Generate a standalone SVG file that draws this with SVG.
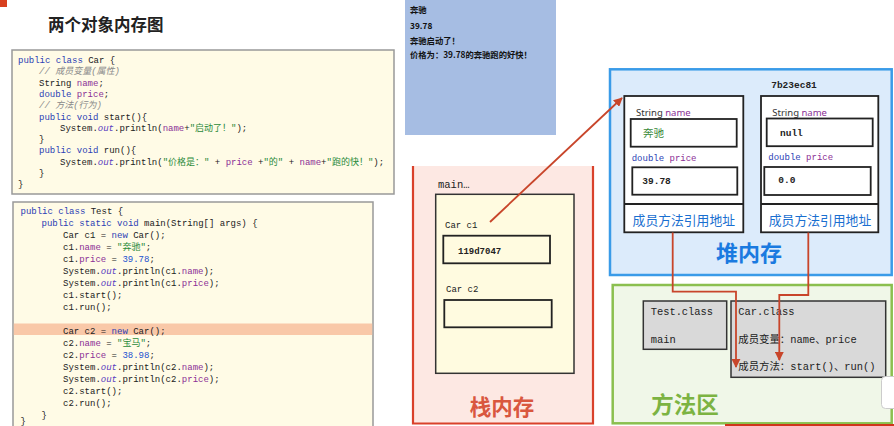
<svg xmlns="http://www.w3.org/2000/svg" width="894" height="426" viewBox="0 0 894 426">
<style>
.code{font-family:"Liberation Mono","Noto Sans CJK SC",monospace;font-size:9px;fill:#222}
.kw{fill:#2c3fb5}
.fld{fill:#8b2f96}
.str{fill:#2a8a3a}
.cm{fill:#8a8a8a;font-style:italic}
.num{fill:#2050d0}
.out{fill:#5a3cc0;font-style:italic}
.mono{font-family:"Liberation Mono","Noto Sans CJK SC",monospace;fill:#222}
.sans{font-family:"Noto Sans","Noto Sans CJK SC",sans-serif;fill:#333}
.cjk{font-family:"Noto Sans CJK SC",sans-serif}
.box{fill:#fff;stroke:#222;stroke-width:1.8}
.conn{fill:none;stroke:#c8452a;stroke-width:1.8}
</style>
<defs>
<marker id="ah" viewBox="0 0 10 10" refX="9" refY="5" markerWidth="5" markerHeight="5" orient="auto" markerUnits="strokeWidth">
<path d="M0,0 L10,5 L0,10 z" fill="#c8452a"/>
</marker>
</defs>
<rect width="894" height="426" fill="#fff"/>
<rect x="0" y="0" width="7" height="7" fill="#d8401f"/>

<g id="title">
<text x="48" y="31" class="cjk" font-size="16.5" font-weight="bold" fill="#222">两个对象内存图</text>
</g>

<g id="car-code">
<rect x="12" y="50" width="382" height="144" fill="#fffbe6" stroke="#999" stroke-width="1.5"/>
<text class="code" x="18" y="63"><tspan class="kw">public class</tspan> Car {</text>
<text class="code" x="39" y="74.3"><tspan class="cm">// 成员变量(属性)</tspan></text>
<text class="code" x="39" y="85.6">String <tspan class="fld">name</tspan>;</text>
<text class="code" x="39" y="96.9"><tspan class="kw">double</tspan> <tspan class="fld">price</tspan>;</text>
<text class="code" x="39" y="108.2"><tspan class="cm">// 方法(行为)</tspan></text>
<text class="code" x="39" y="119.5"><tspan class="kw">public void</tspan> start(){</text>
<text class="code" x="60" y="130.8">System.<tspan class="out">out</tspan>.println(<tspan class="fld">name</tspan>+<tspan class="str">"启动了！"</tspan>);</text>
<text class="code" x="39" y="142.1">}</text>
<text class="code" x="39" y="153.4"><tspan class="kw">public void</tspan> run(){</text>
<text class="code" x="60" y="164.7">System.<tspan class="out">out</tspan>.println(<tspan class="str">"价格是："</tspan> + <tspan class="fld">price</tspan> +<tspan class="str">"的"</tspan> + <tspan class="fld">name</tspan>+<tspan class="str">"跑的快！"</tspan>);</text>
<text class="code" x="39" y="176">}</text>
<text class="code" x="18" y="187.3">}</text>
</g>

<g id="test-code">
<rect x="13" y="202" width="360" height="240" fill="#fffbe6" stroke="#999" stroke-width="1.5"/>
<rect x="13.8" y="323.5" width="358.4" height="11.5" fill="#f9c8a8"/>
<text class="code" x="20.5" y="214.2"><tspan class="kw">public class</tspan> Test {</text>
<text class="code" x="41.5" y="226.2"><tspan class="kw">public static void</tspan> main(String[] args) {</text>
<text class="code" x="63" y="238.2">Car c1 = <tspan class="kw">new</tspan> Car();</text>
<text class="code" x="63" y="250.2">c1.<tspan class="fld">name</tspan> = <tspan class="str">"奔驰"</tspan>;</text>
<text class="code" x="63" y="262.2">c1.<tspan class="fld">price</tspan> = <tspan class="num">39.78</tspan>;</text>
<text class="code" x="63" y="274.2">System.<tspan class="out">out</tspan>.println(c1.<tspan class="fld">name</tspan>);</text>
<text class="code" x="63" y="286.2">System.<tspan class="out">out</tspan>.println(c1.<tspan class="fld">price</tspan>);</text>
<text class="code" x="63" y="298.2">c1.start();</text>
<text class="code" x="63" y="310.2">c1.run();</text>
<text class="code" x="63" y="334.2">Car c2 = <tspan class="kw">new</tspan> Car();</text>
<text class="code" x="63" y="346.2">c2.<tspan class="fld">name</tspan> = <tspan class="str">"宝马"</tspan>;</text>
<text class="code" x="63" y="358.2">c2.<tspan class="fld">price</tspan> = <tspan class="num">38.98</tspan>;</text>
<text class="code" x="63" y="370.2">System.<tspan class="out">out</tspan>.println(c2.<tspan class="fld">name</tspan>);</text>
<text class="code" x="63" y="382.2">System.<tspan class="out">out</tspan>.println(c2.<tspan class="fld">price</tspan>);</text>
<text class="code" x="63" y="394.2">c2.start();</text>
<text class="code" x="63" y="406.2">c2.run();</text>
<text class="code" x="41.5" y="417.5">}</text>
<text class="code" x="20.5" y="423.5">}</text>
</g>

<g id="console">
<rect x="405" y="0" width="151" height="135" fill="#a6bde3"/>
<g class="cjk" font-size="8.3" font-weight="bold" fill="#111">
<text x="410" y="13">奔驰</text>
<text x="410" y="28.5">39.78</text>
<text x="410" y="43.5">奔驰启动了！</text>
<text x="410" y="58">价格为：39.78的奔驰跑的好快！</text>
</g>
</g>

<g id="stack">
<rect x="413" y="166" width="180" height="257.5" fill="#fde8e3"/>
<path d="M413,166 V423.5 H593 V166" fill="none" stroke="#d9412b" stroke-width="2.2"/>
<text x="502" y="414.5" text-anchor="middle" class="cjk" font-size="21.5" font-weight="bold" fill="#d9573f">栈内存</text>
</g>

<g id="main-frame">
<text x="438" y="187.5" class="mono" font-size="10.5">main…</text>
<rect x="435.7" y="194.3" width="138.3" height="179" fill="#fffbe0" stroke="#333" stroke-width="1.5"/>
</g>

<g id="c1">
<text x="445" y="228.3" class="mono" font-size="9">Car c1</text>
<rect x="443.3" y="235.7" width="106.7" height="27.6" fill="#fffbe0" stroke="#222" stroke-width="1.8"/>
<text x="458" y="254.2" class="mono" font-size="9" font-weight="bold" fill="#7a3fb0">119d7047</text>
</g>

<g id="c2">
<text x="446" y="292.3" class="mono" font-size="9">Car c2</text>
<rect x="444.3" y="300" width="107.4" height="27.3" fill="#fffbe0" stroke="#222" stroke-width="1.8"/>
</g>

<g id="heap">
<rect x="610" y="69.3" width="281.7" height="205.7" fill="#dcebfb" stroke="#3a9be8" stroke-width="2.5"/>
<text x="794" y="87.5" text-anchor="middle" class="mono" font-size="9.5" font-weight="bold" fill="#7a3fb0">7b23ec81</text>
<text x="749" y="260.5" text-anchor="middle" class="cjk" font-size="22" font-weight="bold" fill="#1a7ae0">堆内存</text>
</g>

<g id="obj1">
<rect x="624.3" y="96" width="119" height="136.3" class="box"/>
<line x1="624.3" y1="204" x2="743.3" y2="204" stroke="#222" stroke-width="1.8"/>
<text x="636" y="116" class="sans" font-size="9.5">String <tspan fill="#8b2f96">name</tspan></text>
<rect x="630.7" y="119" width="106" height="27.7" class="box"/>
<text x="643" y="137.3" class="cjk" font-size="10.5" fill="#3a8a3a">奔驰</text>
<text x="631.7" y="160.7" class="mono" font-size="9"><tspan fill="#2c3fb5">double</tspan> <tspan fill="#8b2f96">price</tspan></text>
<rect x="632.3" y="167.3" width="105" height="27.4" class="box"/>
<text x="642.3" y="183.5" class="mono" font-size="9.5" font-weight="bold" fill="#2050d0">39.78</text>
<text x="683.8" y="225.3" text-anchor="middle" class="cjk" font-size="12.8" fill="#1a6fd0">成员方法引用地址</text>
</g>

<g id="obj2">
<rect x="761" y="96" width="117.3" height="136.3" class="box"/>
<line x1="761" y1="204" x2="878.3" y2="204" stroke="#222" stroke-width="1.8"/>
<text x="772.3" y="116" class="sans" font-size="9.5">String <tspan fill="#8b2f96">name</tspan></text>
<rect x="766.7" y="118.5" width="106" height="27.7" class="box"/>
<text x="780" y="136.3" class="mono" font-size="9.5" font-weight="bold" fill="#2a7a2a">null</text>
<text x="768.3" y="160.3" class="mono" font-size="9"><tspan fill="#2c3fb5">double</tspan> <tspan fill="#8b2f96">price</tspan></text>
<rect x="764.3" y="167" width="106.4" height="28" class="box"/>
<text x="778.3" y="183.3" class="mono" font-size="9.5" font-weight="bold" fill="#2050d0">0.0</text>
<text x="820" y="225.3" text-anchor="middle" class="cjk" font-size="12.8" fill="#1a6fd0">成员方法引用地址</text>
</g>

<g id="method-area">
<rect x="612.7" y="285" width="279" height="138.3" fill="#f0f7e8" stroke="#8bbf4f" stroke-width="2.5"/>
<text x="685" y="413" text-anchor="middle" class="cjk" font-size="22.5" font-weight="bold" fill="#7cb342">方法区</text>
</g>

<g id="test-class">
<rect x="643.3" y="301" width="83.4" height="48.3" fill="#d9d9d9" stroke="#333" stroke-width="1.5"/>
<text x="650.7" y="315.2" class="mono" font-size="10.4">Test.class</text>
<text x="650.7" y="342.8" class="mono" font-size="10.4">main</text>
</g>

<g id="car-class">
<rect x="731" y="301" width="154.7" height="76.3" fill="#d9d9d9" stroke="#333" stroke-width="1.5"/>
<text x="738.3" y="315.2" class="mono" font-size="10.4">Car.class</text>
<text x="738.3" y="342.8" class="mono" font-size="10.4">成员变量：name、price</text>
<text x="738.3" y="370.2" class="mono" font-size="10.4">成员方法：start()、run()</text>
</g>

<rect x="881.5" y="376.5" width="20" height="32" rx="4" fill="#fff" stroke="#ccc" stroke-width="1"/>
<rect x="725" y="424" width="169" height="2" fill="#d0341c"/>

<g id="connectors">
<path class="conn" d="M490,222 L622,98" marker-end="url(#ah)"/>
<path class="conn" d="M672.7,232.5 V291.7 H736 V367" marker-end="url(#ah)"/>
<path class="conn" d="M808.3,232.5 V295 H779.3 V360" marker-end="url(#ah)"/>
</g>
</svg>
